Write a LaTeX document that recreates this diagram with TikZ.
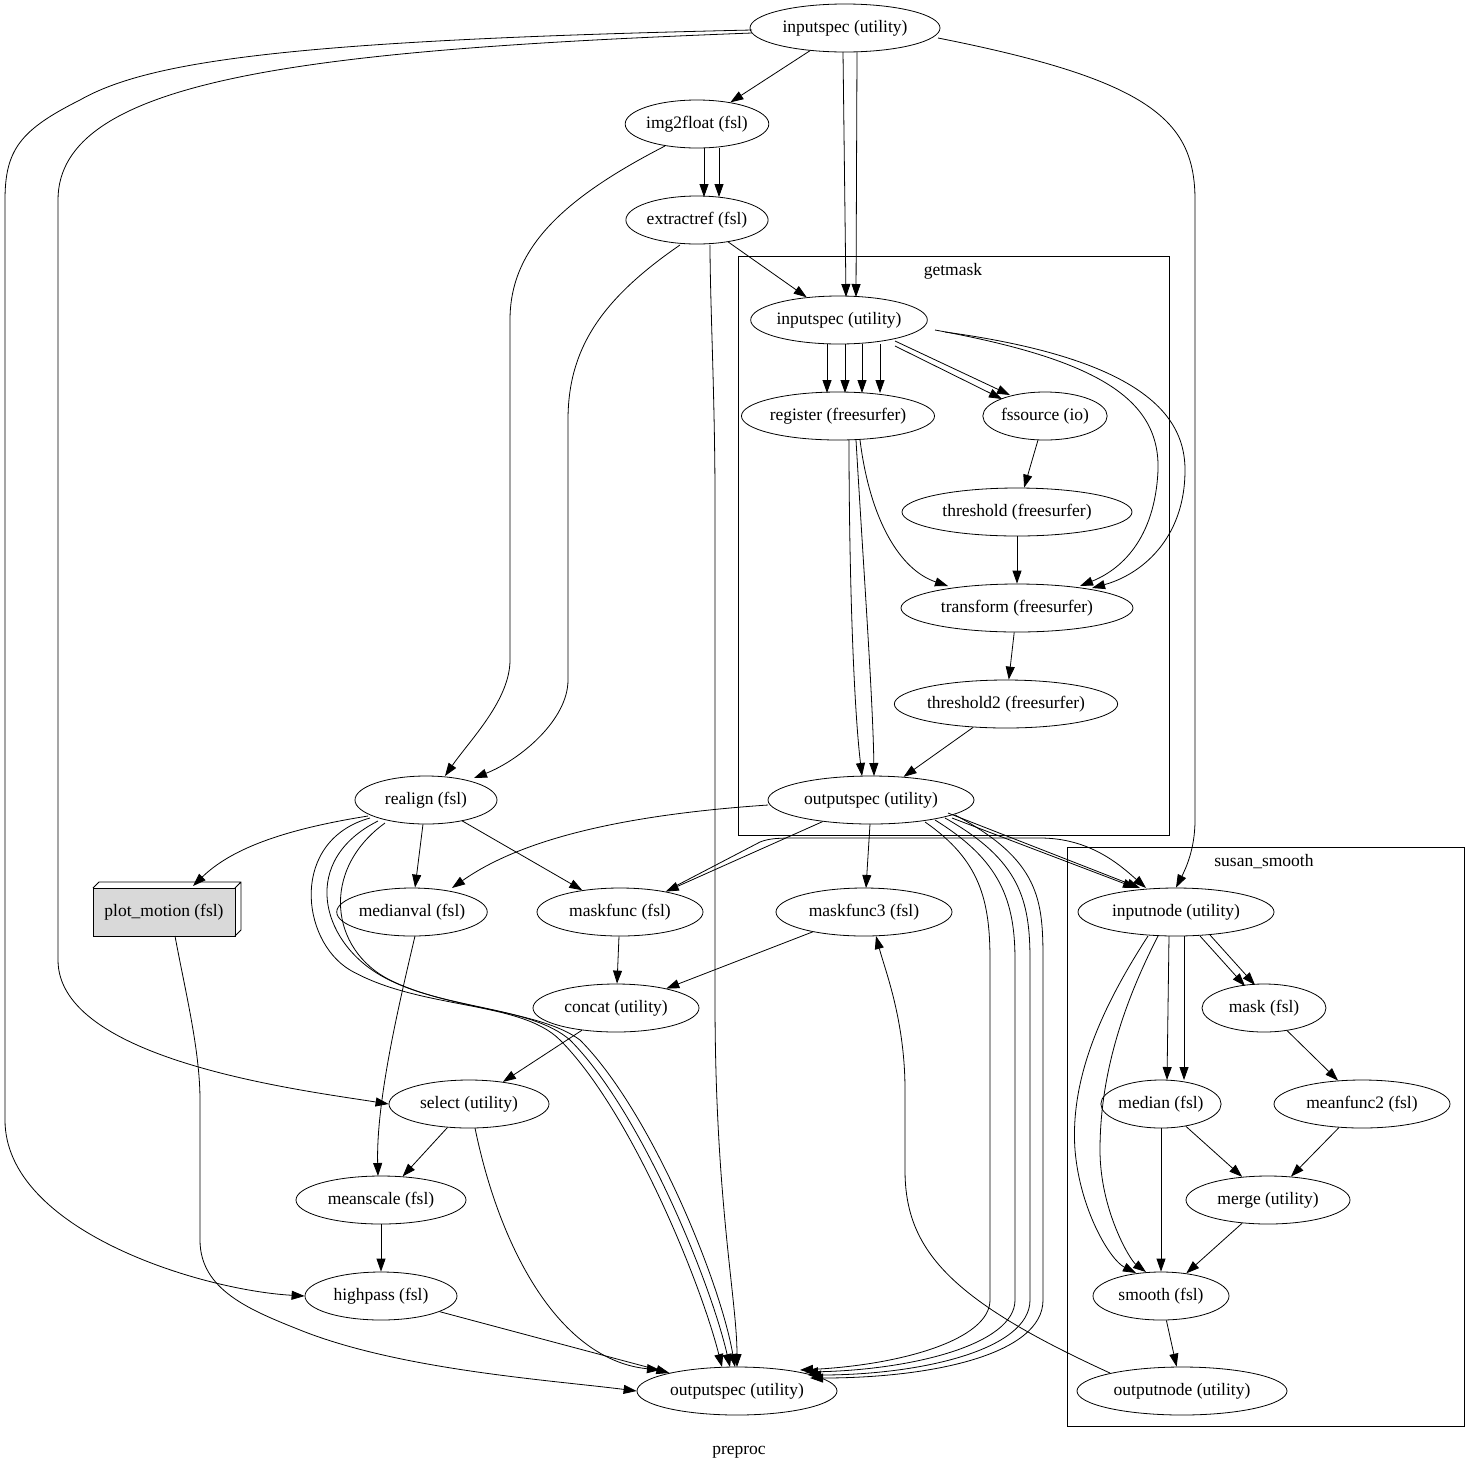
\documentclass[tikz,border=0pt]{standalone}
\usepackage{fontspec}
\setmainfont{Liberation Serif}
\usetikzlibrary{shapes.geometric,arrows.meta,shapes.misc}
\begin{document}
\begin{tikzpicture}[x=1pt,y=-1pt,
  n/.style={ellipse,draw,thick,minimum height=48pt,inner sep=0pt,font=\fontsize{17.5}{20}\selectfont},
  e/.style={-{Triangle[length=13pt,width=9pt]},thick},
  cl/.style={draw,thick},
  lab/.style={font=\fontsize{17.5}{20}\selectfont}]
\useasboundingbox (0,0) rectangle (1480,1473);
% clusters
\draw[cl] (738,256) rectangle (1169,835);
\node[lab] (gml) at (953,271) {getmask};
\draw[cl] (1067,847) rectangle (1464,1426);
\node[lab] (ssl) at (1264,862) {susan\_smooth};
\node[lab] (pre) at (739,1452) {preproc};
% nodes
\node[n,minimum width=190pt] (in1) at (845,28) {inputspec (utility)};
\node[n,minimum width=136pt] (img) at (697,124) {img2float (fsl)};
\node[n,minimum width=136pt] (ext) at (697,220) {extractref (fsl)};
\node[n,minimum width=165pt] (gin) at (839,320) {inputspec (utility)};
\node[n,minimum width=176pt] (reg) at (838,416) {register (freesurfer)};
\node[n,minimum width=120pt] (fss) at (1045,416) {fssource (io)};
\node[n,minimum width=230pt] (thr) at (1017,512) {threshold (freesurfer)};
\node[n,minimum width=232pt] (tra) at (1017,608) {transform (freesurfer)};
\node[n,minimum width=220pt] (thr2) at (1006,704) {threshold2 (freesurfer)};
\node[n,minimum width=206pt] (gout) at (871,800) {outputspec (utility)};
\node[n,minimum width=142pt] (rea) at (426,800) {realign (fsl)};
\node[n,minimum width=146pt] (med) at (412,912) {medianval (fsl)};
\node[n,minimum width=166pt] (mf) at (620,912) {maskfunc (fsl)};
\node[n,minimum width=176pt] (mf3) at (864,912) {maskfunc3 (fsl)};
\node[n,minimum width=166pt] (cat) at (616,1008) {concat (utility)};
\node[n,minimum width=160pt] (sel) at (469,1104) {select (utility)};
\node[n,minimum width=170pt] (msc) at (381,1200) {meanscale (fsl)};
\node[n,minimum width=152pt] (hp) at (381,1296) {highpass (fsl)};
\node[n,minimum width=200pt] (out) at (737,1391) {outputspec (utility)};
\node[n,minimum width=196pt] (inn) at (1176,912) {inputnode (utility)};
\node[n,minimum width=124pt] (msk) at (1264,1008) {mask (fsl)};
\node[n,minimum width=116pt] (mdn) at (1161,1104) {median (fsl)};
\node[n,minimum width=176pt] (mf2) at (1362,1104) {meanfunc2 (fsl)};
\node[n,minimum width=164pt] (mrg) at (1268,1200) {merge (utility)};
\node[n,minimum width=136pt] (smo) at (1161,1296) {smooth (fsl)};
\node[n,minimum width=210pt] (onode) at (1182,1391) {outputnode (utility)};
% plot_motion 3D box
\fill[gray!30] (93,888) rectangle (235,936);
\draw[thick] (93,888) rectangle (235,936);
\draw[thick] (93,888) -- (99,882) -- (241,882) -- (241,930) -- (235,936) (235,888) -- (241,882);
\node[lab] (pm) at (164,912) {plot\_motion (fsl)};
\coordinate (pmb) at (175,936);
\coordinate (pmt) at (193,886);
% edges
\draw[e] (in1) -- (img);
\draw[e] (843,52) -- (846,297);
\draw[e] (857,52) -- (856,297);
\draw[e] (938,38) .. controls (1150,80) and (1195,120) .. (1195,200) -- (1195,820) .. controls (1195,850) and (1185,870) .. (inn.north);
\draw[e] (752,33) .. controls (300,50) and (58,80) .. (58,200) -- (58,960) .. controls (58,1060) and (300,1090) .. (sel.west);
\draw[e] (752,30) .. controls (300,40) and (150,60) .. (80,100) .. controls (20,130) and (5,150) .. (5,200) -- (5,1120) .. controls (5,1230) and (200,1290) .. (hp.west);
\draw[e] (704,148) -- (704,197);
\draw[e] (719,148) -- (719,197);
\draw[e] (665,146) .. controls (560,200) and (510,250) .. (510,320) -- (510,660) .. controls (510,700) and (470,740) .. (445,776);
\draw[e] (ext) -- (gin);
\draw[e] (680,245) .. controls (600,300) and (568,350) .. (568,420) -- (568,680) .. controls (568,720) and (520,760) .. (474,778);
\draw[e] (710,245) .. controls (710,300) and (715,400) .. (715,500) -- (715,1000) .. controls (715,1200) and (737,1300) .. (737,1367);
\foreach \x in {827,845,862,880}{\draw[e] (\x,344) -- (\x,393);}
\draw[e] (895,341) -- (1010,395);
\draw[e] (895,346) -- (1002,399);
\draw[e] (935,330) .. controls (1100,360) and (1160,400) .. (1158,470) .. controls (1155,540) and (1120,570) .. (1080,586);
\draw[e] (945,332) .. controls (1150,360) and (1185,420) .. (1185,470) .. controls (1185,540) and (1140,575) .. (1092,588);
\draw[e] (fss) -- (thr);
\draw[e] (thr) -- (tra);
\draw[e] (tra) -- (thr2);
\draw[e] (thr2) -- (gout);
\draw[e] (860,440) .. controls (870,520) and (900,570) .. (948,586);
\draw[e] (849,440) .. controls (849,560) and (853,700) .. (862,776);
\draw[e] (856,440) .. controls (863,560) and (873,700) .. (874,776);
\draw[e] (368,816) .. controls (280,830) and (230,850) .. (pmt);
\draw[e] (rea) -- (med);
\draw[e] (rea) -- (mf);
\draw[e] (370,818) .. controls (290,840) and (300,940) .. (350,970) .. controls (420,1010) and (520,1000) .. (560,1040) .. controls (630,1110) and (700,1280) .. (722,1367);
\draw[e] (378,821) .. controls (300,860) and (320,940) .. (380,975) .. controls (440,1010) and (530,1005) .. (570,1040) .. controls (640,1110) and (710,1280) .. (730,1367);
\draw[e] (385,823) .. controls (320,870) and (330,950) .. (390,980) .. controls (450,1010) and (540,1010) .. (580,1040) .. controls (650,1110) and (720,1280) .. (735,1367);
\draw[e] (768,805) .. controls (620,815) and (520,840) .. (452,888);
\draw[e] (gout) -- (mf);
\draw[e] (668,890) -- (760,842) .. controls (770,838) and (780,838) .. (800,838) -- (1040,838) .. controls (1090,838) and (1120,865) .. (1146,888);
\draw[e] (870,824) -- (866,888);
\draw[e] (948,813) -- (1140,888);
\draw[e] (952,818) -- (1136,888);
\draw[e] (925,822) .. controls (980,860) and (990,900) .. (990,960) -- (990,1300) .. controls (990,1340) and (900,1365) .. (800,1370);
\draw[e] (935,820) .. controls (1000,860) and (1015,900) .. (1015,960) -- (1015,1300) .. controls (1015,1345) and (910,1370) .. (805,1372);
\draw[e] (945,818) .. controls (1020,860) and (1030,900) .. (1030,960) -- (1030,1300) .. controls (1030,1350) and (920,1375) .. (808,1375);
\draw[e] (955,815) .. controls (1040,860) and (1043,900) .. (1043,960) -- (1043,1300) .. controls (1043,1355) and (930,1378) .. (810,1378);
\draw[e] (pmb) .. controls (185,990) and (200,1050) .. (200,1100) -- (200,1240) .. controls (200,1290) and (250,1310) .. (300,1330) .. controls (400,1370) and (550,1380) .. (out.west);
\draw[e] (415,936) .. controls (400,1000) and (376,1100) .. (378,1176);
\draw[e] (mf) -- (cat);
\draw[e] (mf3) -- (cat);
\draw[e] (cat) -- (sel);
\draw[e] (sel) -- (msc);
\draw[e] (475,1128) .. controls (500,1250) and (560,1360) .. (660,1370);
\draw[e] (msc) -- (hp);
\draw[e] (hp) -- (out);
\draw[e] (1110,1373) .. controls (950,1300) and (905,1250) .. (905,1170) -- (905,1090) .. controls (905,1020) and (885,970) .. (876,936);
% susan internals
\draw[e] (1200,936) -- (1245,986);
\draw[e] (1210,935) -- (1255,985);
\draw[e] (1169,936) -- (1167,1080);
\draw[e] (1184,936) -- (1184,1080);
\draw[e] (1148,936) .. controls (1100,1010) and (1070,1080) .. (1075,1150) .. controls (1080,1210) and (1110,1260) .. (1136,1273);
\draw[e] (1158,936) .. controls (1120,1010) and (1100,1080) .. (1100,1150) .. controls (1100,1210) and (1130,1260) .. (1146,1272);
\draw[e] (msk) -- (mf2);
\draw[e] (mf2) -- (mrg);
\draw[e] (mdn) -- (mrg);
\draw[e] (mdn) -- (smo);
\draw[e] (mrg) -- (smo);
\draw[e] (smo) -- (onode);
\end{tikzpicture}
\end{document}
